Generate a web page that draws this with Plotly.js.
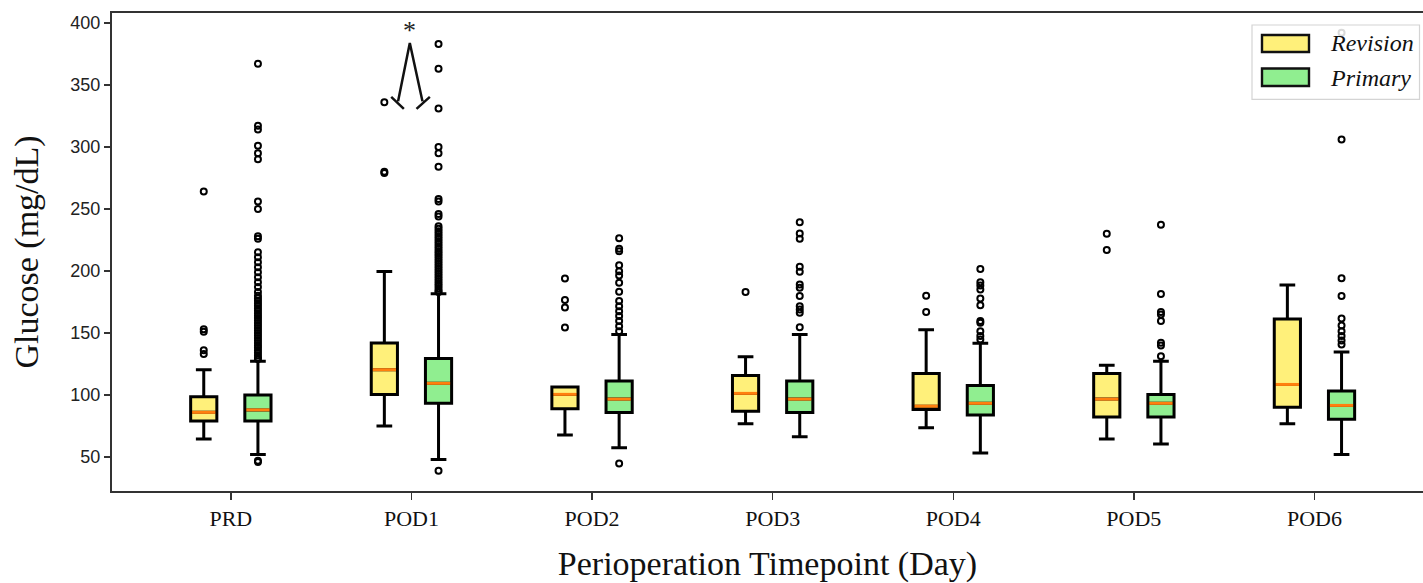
<!DOCTYPE html>
<html>
<head>
<meta charset="utf-8">
<script src="https://cdn.plot.ly/plotly-3.0.1.min.js"></script>
<style>html,body{margin:0;padding:0;background:#fff;}#chart{width:1423px;height:583px;}</style>
</head>
<body>
<div id="chart"></div>
<script>
// ---- data ----
const categories = ["PRD", "POD1", "POD2", "POD3", "POD4", "POD5", "POD6"];
const groups = ["Revision", "Primary"];

const revQ1  = [79, 100.5, 89, 87, 88.4, 82.2, 90.2];
const revMed = [86, 120.4, 100.5, 101.3, 91, 96.7, 108.5];
const revQ3  = [98.6, 142, 106.5, 115.8, 117.4, 117.4, 161.2];
const revLo  = [64.5, 75, 67.7, 76.9, 73.6, 64.5, 76.9];
const revHi  = [120.4, 199.6, 106.5, 130.9, 152.6, 123.9, 188.6];

const primQ1  = [79, 93.3, 85.8, 85.8, 83.8, 82.2, 80.4];
const primMed = [88, 109.4, 96.7, 96.7, 93.3, 93.3, 91.6];
const primQ3  = [100, 129.5, 111.2, 111.2, 107.7, 100.5, 103.2];
const primLo  = [52, 48, 57.5, 66.4, 53.2, 60.4, 52.1];
const primHi  = [127.3, 181.6, 148.8, 148.8, 141.8, 127.3, 134.6];

const revOutliers = [
  [264, 153, 151, 136, 133],
  [336, 280, 279],
  [194, 176.5, 170.6, 154.5],
  [183],
  [180, 167],
  [230, 217],
  []
];
const primOutliers = [
  [367, 317, 314, 301, 295, 290, 256, 250, 228, 226, 215, 211, 207, 203, 199, 195, 191, 187, 183,
   180, 178, 176, 174, 172, 170, 168, 166, 164, 162, 160, 158, 156, 154, 152, 150, 148, 146, 144,
   142, 140, 138, 136, 134, 132, 130, 129, 47, 46],
  [383, 363, 331, 300, 295, 284, 258, 256, 246, 244, 236, 234, 232, 230, 228, 226, 224, 222, 220,
   218, 216, 214, 212, 210, 208, 206, 204, 202, 200, 198, 196, 194, 192, 190, 188, 186, 184, 183, 39],
  [226.4, 218, 216, 204.7, 199.8, 196.4, 190.5, 183.2, 175.7, 171.6, 167.6, 163.6, 159.6, 155.5, 151.5, 44.7],
  [239.3, 230.2, 226, 203.4, 199.4, 189.1, 186.5, 179.8, 171.6, 169, 166.3, 154.7],
  [201.5, 191, 188.3, 185.1, 177.8, 172.4, 159.6, 158.3, 151.5, 147.5, 144.8],
  [237.3, 181.4, 167, 164.9, 159.6, 142.1, 139.9, 131.3],
  [392, 306, 194.2, 179.8, 161.7, 156, 151.5, 147.5, 144, 140.8]
];

// ---- style ----
const OFF = 0.15, W = 0.145;
const colors = {Revision: "#fff07a", Primary: "#90ee90"};
const stats = {
  Revision: {q1: revQ1, med: revMed, q3: revQ3, lo: revLo, hi: revHi, out: revOutliers, off: -OFF},
  Primary:  {q1: primQ1, med: primMed, q3: primQ3, lo: primLo, hi: primHi, out: primOutliers, off: OFF}
};

const traces = [];
groups.forEach(g => {
  const s = stats[g];
  const pos = categories.map((c, i) => i + s.off);
  traces.push({
    type: "box", name: g, x: pos,
    q1: s.q1, median: s.med, q3: s.q3, lowerfence: s.lo, upperfence: s.hi,
    boxpoints: false, width: W, whiskerwidth: 0.6,
    fillcolor: colors[g], line: {color: "#000", width: 3},
    showlegend: false, hoverinfo: "skip"
  });
});
groups.forEach(g => {
  const s = stats[g];
  const mx = [], my = [];
  categories.forEach((c, i) => {
    const p = i + s.off;
    mx.push(p - W / 2 + 0.008, p + W / 2 - 0.008, null);
    my.push(s.med[i], s.med[i], null);
  });
  traces.push({type: "scatter", mode: "lines", x: mx, y: my,
    line: {color: "#ff7f0e", width: 3}, showlegend: false, hoverinfo: "skip"});
});
groups.forEach(g => {
  const s = stats[g];
  const ox = [], oy = [];
  s.out.forEach((arr, i) => arr.forEach(v => { ox.push(i + s.off); oy.push(v); }));
  traces.push({type: "scatter", mode: "markers", x: ox, y: oy,
    marker: {symbol: "circle-open", size: 6, color: "#000", line: {width: 2, color: "#000"}},
    showlegend: false, hoverinfo: "skip"});
});

const L = 112, T = 13, B = 92, R = 0, FW = 1423, FH = 583;
const PW = FW - L - R, PH = FH - T - B;
const px = v => (v - L) / PW;
const py = v => (FH - B - v) / PH;

const layout = {
  width: FW, height: FH,
  margin: {l: L, r: R, t: T, b: B, pad: 0},
  paper_bgcolor: "#fff", plot_bgcolor: "#fff",
  boxmode: "overlay", showlegend: false, hovermode: false,
  xaxis: {
    range: [-0.658, 6.601], tickmode: "array",
    tickvals: categories.map((c, i) => i), ticktext: categories,
    showgrid: false, zeroline: false,
    showline: true, linecolor: "#333", linewidth: 2, mirror: true,
    ticks: "outside", ticklen: 7, tickwidth: 1.5, tickcolor: "#333",
    tickfont: {family: "Liberation Serif, Times New Roman, serif", size: 22, color: "#111"},
    title: {text: "Perioperation Timepoint (Day)", standoff: 22,
      font: {family: "Liberation Serif, Times New Roman, serif", size: 34, color: "#111"}}
  },
  yaxis: {
    range: [22.6, 408], tickvals: [50, 100, 150, 200, 250, 300, 350, 400],
    showgrid: false, zeroline: false,
    showline: true, linecolor: "#333", linewidth: 2, mirror: true,
    ticks: "outside", ticklen: 6, tickwidth: 1.5, tickcolor: "#333",
    tickfont: {family: "Liberation Sans, Arial, sans-serif", size: 18, color: "#222"},
    title: {text: "Glucose (mg/dL)", standoff: 21,
      font: {family: "Liberation Serif, Times New Roman, serif", size: 34, color: "#111"}}
  },
  shapes: [
    // significance bracket
    {type: "path", xref: "x", yref: "y", layer: "above",
     path: "M 0.926,336.8 L 0.991,383.9 L 1.061,336.8 M 0.888,340.4 L 0.958,330.7 M 1.028,330.7 L 1.102,340.4",
     line: {color: "#111", width: 2.5}},
    // legend box
    {type: "rect", xref: "paper", yref: "paper", layer: "above",
     x0: px(1252), x1: px(1419.5), y0: py(99.3), y1: py(25),
     line: {color: "#d4d4d4", width: 1.2}, fillcolor: "rgba(255,255,255,0.85)"},
    {type: "rect", xref: "paper", yref: "paper", layer: "above",
     x0: px(1262), x1: px(1309), y0: py(52), y1: py(35),
     line: {color: "#111", width: 2.4}, fillcolor: colors.Revision},
    {type: "rect", xref: "paper", yref: "paper", layer: "above",
     x0: px(1262), x1: px(1309), y0: py(86), y1: py(68.5),
     line: {color: "#111", width: 2.4}, fillcolor: colors.Primary}
  ],
  annotations: [
    {xref: "x", yref: "y", x: 0.991, y: 394, text: "*", showarrow: false,
     font: {family: "Liberation Serif, Times New Roman, serif", size: 26, color: "#222"}},
    {xref: "paper", yref: "paper", x: px(1328), y: py(43.5), xanchor: "left", yanchor: "middle",
     text: "<i>Revision</i>", showarrow: false,
     font: {family: "Liberation Serif, Times New Roman, serif", size: 24, color: "#111"}},
    {xref: "paper", yref: "paper", x: px(1328), y: py(77.5), xanchor: "left", yanchor: "middle",
     text: "<i>Primary</i>", showarrow: false,
     font: {family: "Liberation Serif, Times New Roman, serif", size: 24, color: "#111"}}
  ]
};

Plotly.newPlot("chart", traces, layout, {displayModeBar: false, staticPlot: true});
</script>
</body>
</html>
